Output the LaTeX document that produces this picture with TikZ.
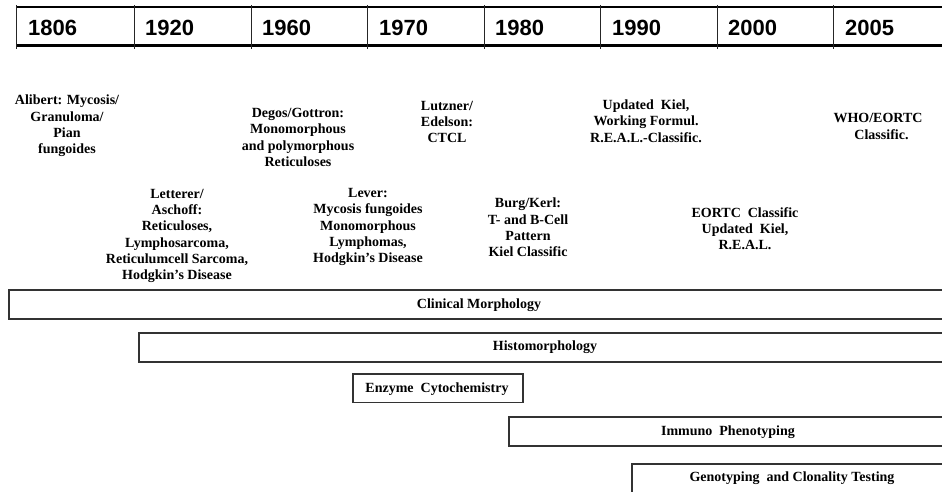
\documentclass[tikz,border=0pt]{standalone}
\usepackage{fontspec}
\setmainfont{Liberation Serif}
\newfontfamily\yearfont{Liberation Sans}
\begin{document}
\begin{tikzpicture}[x=1pt,y=-1pt,
  txt/.style={font=\fontsize{14}{16.3}\selectfont\bfseries, align=center, inner sep=0pt},
  yr/.style={font=\yearfont\fontsize{22}{24}\selectfont\bfseries, anchor=west, inner sep=0pt},
  bar/.style={draw=black!80, line width=1.4pt},
  barlbl/.style={font=\fontsize{14}{16}\selectfont\bfseries, inner sep=0pt},
  hdr/.style={line width=2.6pt},
  sep/.style={line width=0.9pt, draw=black!85}]
\useasboundingbox (0,0) rectangle (942,491);
\begin{scope}
\clip (0,0) rectangle (942,491);
% header
\draw[hdr] (16,7) -- (950,7);
\draw[hdr] (16,45.5) -- (950,45.5);
\foreach \x in {16,134,251,367,484,600,717,833}
  \draw[sep] (\x,5) -- (\x,49);
\node[yr] (y1806) at (28,28) {1806};
\node[yr] (y1920) at (145,28) {1920};
\node[yr] (y1960) at (262,28) {1960};
\node[yr] (y1970) at (379,28) {1970};
\node[yr] (y1980) at (495,28) {1980};
\node[yr] (y1990) at (612,28) {1990};
\node[yr] (y2000) at (728,28) {2000};
\node[yr] (y2005) at (845,28) {2005};
% text blocks
\node[txt] (alibert) at (67,126) {Alibert: Mycosis/\\Granuloma/\\Pian\\fungoides};
\node[txt] (degos) at (298,137.5) {Degos/Gottron:\\Monomorphous\\and polymorphous\\Reticuloses};
\node[txt] (lutzner) at (447,122) {Lutzner/\\Edelson:\\CTCL};
\node[txt] (updkiel) at (646,121) {Updated\ \ Kiel,\\Working Formul.\\R.E.A.L.-Classific.};
\node[txt] (who) at (878,126.5) {WHO/EORTC\\\ \ Classific.};
\node[txt] (letterer) at (177,236) {Letterer/\\Aschoff:\\Reticuloses,\\Lymphosarcoma,\\Reticulumcell Sarcoma,\\Hodgkin's Disease};
\node[txt] (lever) at (368,227) {Lever:\\Mycosis fungoides\\Monomorphous\\Lymphomas,\\Hodgkin's Disease};
\node[txt] (burg) at (528,227.5) {Burg/Kerl:\\T- and B-Cell\\Pattern\\Kiel Classific};
\node[txt] (eortc) at (745,228.5) {EORTC\ \ Classific\\Updated\ \ Kiel,\\R.E.A.L.};
% bars
\draw[bar] (9,290) rectangle (950,319);
\node[barlbl] (clin) at (479,305) {Clinical Morphology};
\draw[bar] (139,333) rectangle (950,362);
\node[barlbl] (histo) at (545,347) {Histomorphology};
\draw[bar] (353,374) rectangle (523,402.5);
\node[barlbl] (enzyme) at (437,389) {Enzyme\ \ Cytochemistry};
\draw[bar] (509,417) rectangle (950,446);
\node[barlbl] (immuno) at (728,432) {Immuno\ \ Phenotyping};
\draw[bar] (632,464) rectangle (950,500);
\node[barlbl] (geno) at (792,478) {Genotyping\ \ and Clonality Testing};
\end{scope}
\end{tikzpicture}
\end{document}
